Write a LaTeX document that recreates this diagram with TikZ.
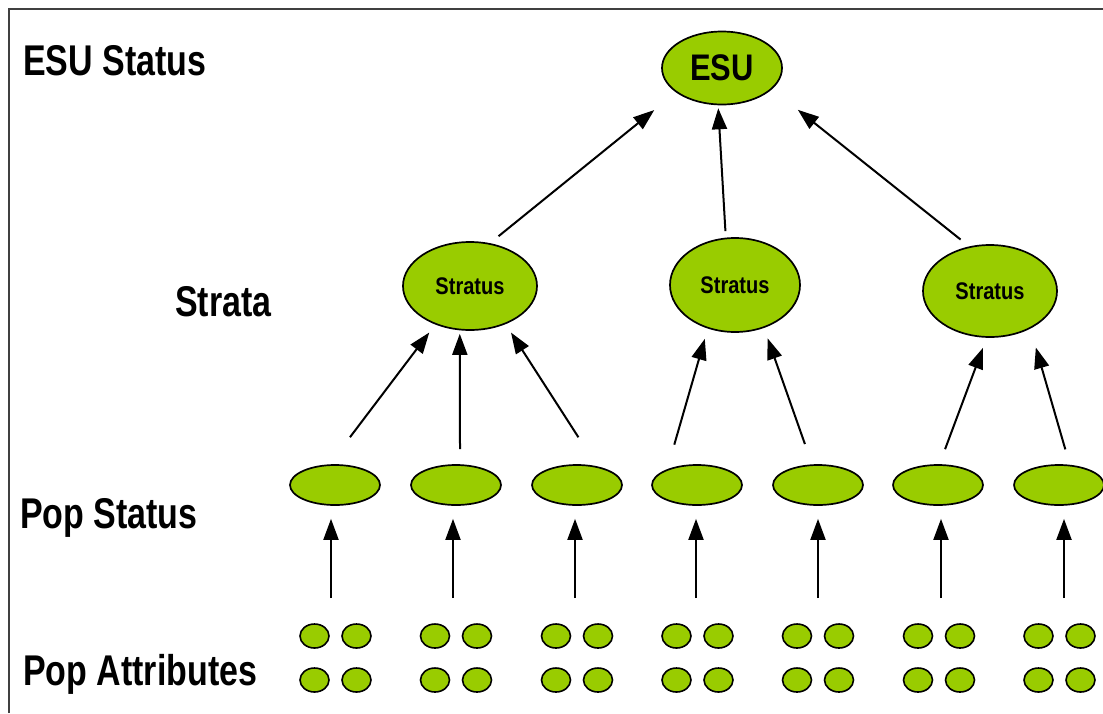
\documentclass[tikz,border=0pt]{standalone}
\usepackage{fontspec}
\newfontfamily\labfont[FakeStretch=0.835]{Liberation Sans}
\newfontfamily\lvlfont[FakeStretch=0.79]{Liberation Sans}
\usetikzlibrary{shapes.geometric,arrows.meta}
\definecolor{esugreen}{RGB}{153,204,0}
\definecolor{framegray}{RGB}{64,64,64}
\begin{document}
\begin{tikzpicture}[x=1pt,y=-1pt,
  blob/.style={ellipse,draw=black,line width=1.7pt,fill=esugreen,inner sep=0pt},
  esu/.style={blob,minimum width=120pt,minimum height=73pt,font=\labfont\bfseries\fontsize{37}{40}\selectfont},
  stratum/.style={blob,font=\labfont\bfseries\fontsize{24}{26}\selectfont},
  popst/.style={blob,minimum width=90pt,minimum height=40pt},
  attr/.style={blob,minimum width=29pt,minimum height=24pt,line width=1.6pt},
  lvl/.style={anchor=base west,inner sep=0pt,font=\lvlfont\bfseries\fontsize{43}{46}\selectfont},
  arr/.style={line width=2pt,-{Triangle[length=21pt,width=15pt]}}]

\useasboundingbox (0,0) rectangle (1103,713);
\fill[white] (0,0) rectangle (1103,713);
\draw[framegray,line width=2pt] (9,713) -- (9,9) -- (1103,9);

% level labels
\node[lvl] (lEsu) at (23,75) {ESU Status};
\node[lvl] (lStrata) at (175,316) {Strata};
\node[lvl] (lPopSt) at (20,528) {Pop Status};
\node[lvl] (lPopAt) at (23,685) {Pop Attributes};

% ESU
\node[esu] (ESU) at (722,68) {ESU};

% strata
\node[stratum,minimum width=134pt,minimum height=88pt] (S1) at (470,286) {Stratus};
\node[stratum,minimum width=130pt,minimum height=94pt] (S2) at (735,285) {Stratus};
\node[stratum,minimum width=134pt,minimum height=92pt] (S3) at (990,291) {Stratus};

% population status
\foreach \i/\x in {1/335,2/456,3/577,4/697,5/818,6/938,7/1059}
  \node[popst] (P\i) at (\x,485) {};

% population attributes
\foreach \i/\x in {1/335.5,2/456,3/577,4/697.5,5/818,6/939,7/1059.5}{
  \node[attr] (Q\i-a) at (\x-21,636) {};
  \node[attr] (Q\i-b) at (\x+21,636) {};
  \node[attr] (Q\i-c) at (\x-21,680) {};
  \node[attr] (Q\i-d) at (\x+21,680) {};
}

% arrow tails above the attribute clusters
\foreach \i/\x in {1/331,2/453,3/575,4/696,5/818,6/941,7/1064}
  \coordinate (a\i) at (\x,598);

% attributes -> pop status
\foreach \i in {1,...,7}
  \draw[arr,shorten >=13pt] (a\i) -- (a\i |- P\i.south);

% pop status -> strata
\draw[arr,shorten <=34pt,shorten >=10pt] (P1.105) -- (S1.228);
\draw[arr,shorten <=15pt,shorten >=3.5pt] (P2.79) -- (S1.257);
\draw[arr,shorten <=34.5pt,shorten >=10pt] (P3.43) -- (S1.313);
\draw[arr,shorten <=25.5pt,shorten >=10.7pt] (P4.152) -- (S2.238);
\draw[arr,shorten <=21.5pt,shorten >=11pt] (P5.106) -- (S2.304);
\draw[arr,shorten <=16pt,shorten >=10.7pt] (P6.86) -- (S3.266);
\draw[arr,shorten <=16pt,shorten >=19.6pt] (P7.62) -- (S3.317);

% strata -> ESU
\draw[arr,shorten <=11pt,shorten >=28pt] (S1.65) -- (ESU.208);
\draw[arr,shorten <=6.5pt,shorten >=3pt] (S2.101) -- (ESU.264);
\draw[arr,shorten <=11pt,shorten >=33pt] (S3.115) -- (ESU.337);
\end{tikzpicture}
\end{document}
